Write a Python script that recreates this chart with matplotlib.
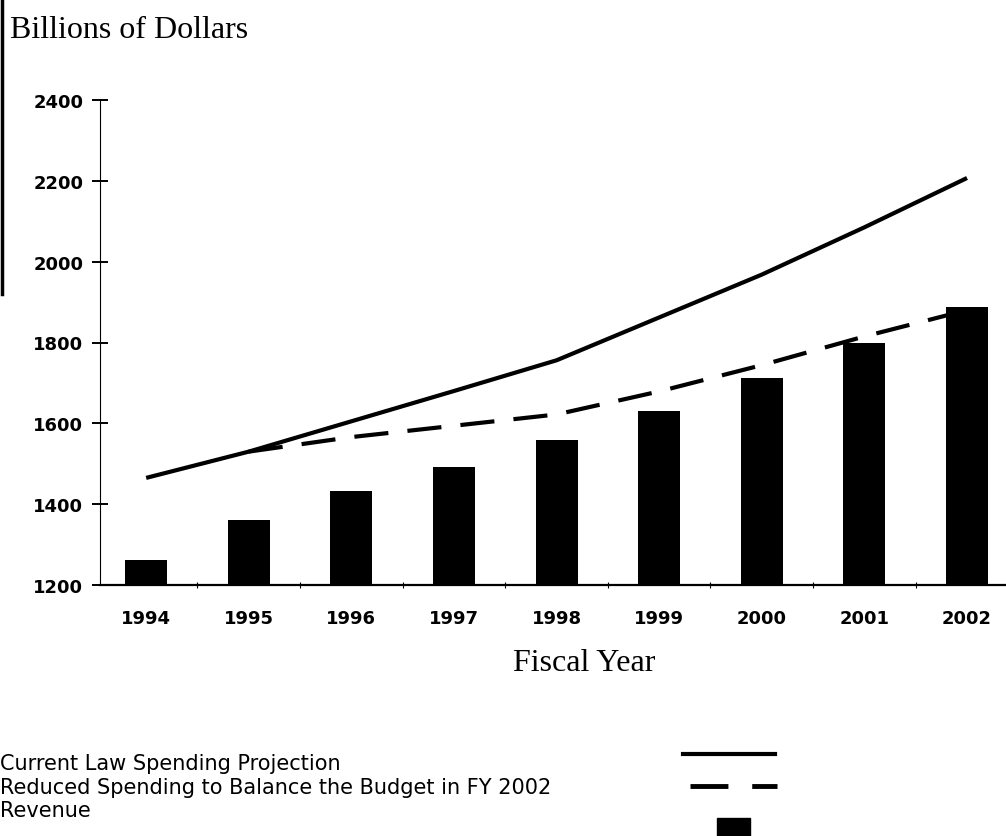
import matplotlib.pyplot as plt
from matplotlib.lines import Line2D
from matplotlib.patches import Rectangle
from matplotlib.ticker import MultipleLocator

# Values (billions of dollars)
years = [1994, 1995, 1996, 1997, 1998, 1999, 2000, 2001, 2002]
revenue = [1262, 1361, 1433, 1492, 1559, 1631, 1712, 1799, 1888]
current_law = [1465, 1530, 1605, 1680, 1756, 1862, 1968, 2085, 2207]
reduced_years = [1995, 1996, 1997, 1998, 1999, 2000, 2001, 2002]
reduced = [1530, 1566, 1594, 1622, 1679, 1744, 1815, 1880]

y_ticks = [1200, 1400, 1600, 1800, 2000, 2200, 2400]
legend_labels = [
    "Current Law Spending Projection",
    "Reduced Spending to Balance the Budget in FY 2002",
    "Revenue",
]

W, H = 1006, 837
fig = plt.figure(figsize=(W / 100, H / 100), dpi=100)
fig.patch.set_facecolor("white")

# axes placed to match the scan: y axis at x=100px, 1200 at y=586px, 2400 at y=101px
ax = fig.add_axes([100 / W, 1 - 586 / H, 1 - 100 / W, (586 - 101) / H])
ax.set_xlim(1993.55, 2002.38)
ax.set_ylim(1200, 2400)

ax.bar(years, [r - 1200 for r in revenue], bottom=1200, width=0.41,
       color="black", zorder=2)
ax.plot(years, current_law, color="black", lw=3, solid_capstyle="butt", zorder=3)
ax.plot(reduced_years, reduced, color="black", lw=3, dashes=(8.2, 4.6), zorder=3)

ax.spines["top"].set_visible(False)
ax.spines["right"].set_visible(False)
ax.spines["left"].set_linewidth(0.8)
ax.spines["bottom"].set_linewidth(1.6)

ax.set_yticks(y_ticks)
ax.set_yticklabels([str(v) for v in y_ticks])
ax.tick_params(axis="y", direction="inout", length=11, width=1.4, pad=6.5)
for lab in ax.get_yticklabels():
    lab.set_fontfamily("DejaVu Sans")
    lab.set_fontweight("bold")
    lab.set_fontsize(13)

ax.set_xticks(years)
ax.set_xticklabels([str(y) for y in years])
ax.xaxis.set_minor_locator(MultipleLocator(1, offset=0.5))
ax.tick_params(axis="x", which="major", length=0, pad=17)
ax.tick_params(axis="x", which="minor", direction="inout", length=5, width=0.8)
for lab in ax.get_xticklabels():
    lab.set_fontfamily("DejaVu Sans")
    lab.set_fontweight("bold")
    lab.set_fontsize(13)

fig.text(10 / W, 1 - 31 / H, "Billions of Dollars", family="Liberation Serif",
         fontsize=23, va="center", ha="left")
fig.text(584 / W, 1 - 664 / H, "Fiscal Year", family="Liberation Serif",
         fontsize=23, va="center", ha="center")

# scan edge line at the top left
fig.add_artist(Line2D([1.5 / W, 1.5 / W], [1, 1 - 295 / H], color="black", lw=2.5))

# legend: labels on the left, symbols on the right
rows_y = [764, 788, 811]
for label, yy in zip(legend_labels, rows_y):
    fig.text(0, 1 - yy / H, label, family="DejaVu Sans", fontsize=15,
             va="center", ha="left")
fig.add_artist(Line2D([683 / W, 775 / W], [1 - 755 / H] * 2, color="black", lw=3))
fig.add_artist(Line2D([690 / W, 777 / W], [1 - 787 / H] * 2, color="black", lw=3.5,
                      dashes=(7.8, 4.9)))
fig.add_artist(Rectangle((717 / W, 0), 33 / W, 18 / H, color="black",
                         transform=fig.transFigure))

fig.savefig("out.png", dpi=100)
